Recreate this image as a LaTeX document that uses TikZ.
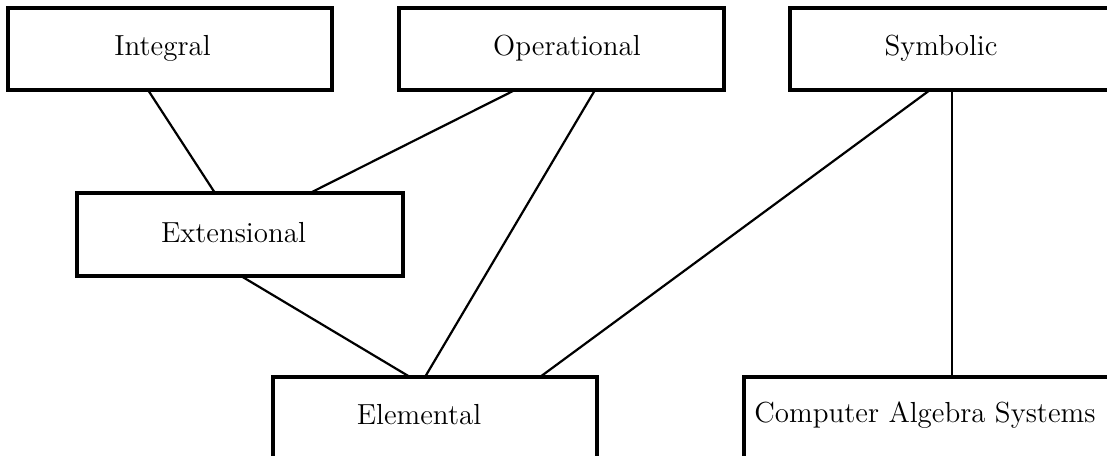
\documentclass[tikz,border=0pt]{standalone}
\usetikzlibrary{calc}
\begin{document}
\begin{tikzpicture}[x=0.5pt,y=-0.5pt,
  box/.style={draw,line width=1.7pt,minimum height=#1,inner sep=0pt,outer sep=0pt},
  box/.default=41.5pt,
  txt/.style={font=\fontsize{14.5}{17}\selectfont,inner sep=0pt},
  link/.style={line width=1.1pt}]
\useasboundingbox (0,0) rectangle (1107,455);
\clip (0,0) rectangle (1107,455);
% boxes
\node[box=41pt,minimum width=162pt] (int) at (170,49) {};
\node[box=41pt,minimum width=162.5pt] (op) at (561.5,49) {};
\node[box=41pt,minimum width=170pt] (sym) at (960,49) {};
\node[box,minimum width=163pt] (ext) at (240,234.5) {};
\node[box,minimum width=162pt] (ele) at (435,418.5) {};
\node[box,minimum width=190pt] (cas) at (934,418.5) {};
% texts
\node[txt] (intt) at (162.5,48) {Integral};
\node[txt] (opt) at (567,48) {Operational};
\node[txt] (symt) at (941,48) {Symbolic};
\node[txt] (extt) at (233.5,233) {Extensional};
\node[txt] (elet) at (419,415) {Elemental};
\node[txt,anchor=west] (cast) at (754,415) {Computer Algebra Systems};
% connectors
\draw[link] ($(int.south west)+(140,0)$) -- ($(ext.north west)+(138,0)$);
\draw[link] ($(op.south west)+(116,0)$) -- ($(ext.north west)+(233,0)$);
\draw[link] ($(op.south west)+(196,0)$) -- ($(ele.north west)+(152,0)$);
\draw[link] ($(ext.south west)+(164,0)$) -- ($(ele.north west)+(137,0)$);
\draw[link] ($(sym.south west)+(140,0)$) -- ($(ele.north west)+(267,0)$);
\draw[link] ($(sym.south west)+(162,0)$) -- ($(cas.north west)+(208,0)$);
\end{tikzpicture}
\end{document}
